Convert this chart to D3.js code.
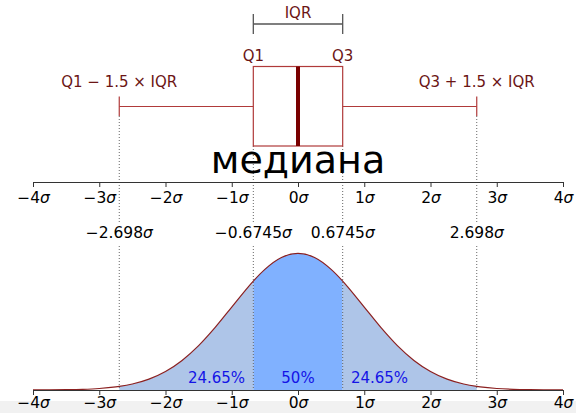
<!DOCTYPE html>
<html>
<head>
<meta charset="utf-8">
<script src="https://cdn.jsdelivr.net/npm/d3@7"></script>
<style>
  body { margin: 0; background: #fff; }
  text { font-family: "DejaVu Sans", sans-serif; }
</style>
</head>
<body>
<svg id="chart"></svg>
<script>
// axis ticks in units of sigma
const sigmaTicks = [-4, -3, -2, -1, 0, 1, 2, 3, 4];
// quartiles and whisker ends
const q1 = -0.6745, q3 = 0.6745, median = 0;
const whiskerLow = -2.698, whiskerHigh = 2.698;
const markerLabels = ["−2.698", "−0.6745", "0.6745", "2.698"];
const markerValues = [whiskerLow, q1, q3, whiskerHigh];
// share of area in each region
const regionLabels = ["24.65%", "50%", "24.65%"];
const regionCenters = [-1.23, 0, 1.23];
// density [sigma, density]
const density = [
  [-4, 0.0001], [-3.75, 0.0004], [-3.5, 0.0009], [-3.25, 0.002], [-3, 0.0044],
  [-2.75, 0.0091], [-2.698, 0.0105], [-2.5, 0.0175], [-2.25, 0.0317], [-2, 0.054],
  [-1.75, 0.0863], [-1.5, 0.1295], [-1.25, 0.1826], [-1, 0.242], [-0.75, 0.3011],
  [-0.6745, 0.3178], [-0.5, 0.3521], [-0.25, 0.3867], [0, 0.3989],
  [0.25, 0.3867], [0.5, 0.3521], [0.6745, 0.3178], [0.75, 0.3011], [1, 0.242],
  [1.25, 0.1826], [1.5, 0.1295], [1.75, 0.0863], [2, 0.054], [2.25, 0.0317],
  [2.5, 0.0175], [2.698, 0.0105], [2.75, 0.0091], [3, 0.0044], [3.25, 0.002],
  [3.5, 0.0009], [3.75, 0.0004], [4, 0.0001]
];

const width = 576, height = 413;
const svg = d3.select("#chart").attr("width", width).attr("height", height);

svg.append("rect").attr("x", 0).attr("y", 401).attr("width", width).attr("height", 12)
  .attr("fill", "#f1f1f1");

const x = d3.scaleLinear().domain([-4, 4]).range([33, 563]);
const topAxisY = 182, bottomAxisY = 390;
const y = d3.scaleLinear().domain([0, 0.3989]).range([bottomAxisY, 253.3]);

const labelColor = "#6b1515";
const boxColor = "#b03a3a";
const tickFont = 15.5;

function sigmaText(sel, prefix) {
  sel.append("tspan").text(prefix);
  sel.append("tspan").attr("font-style", "italic").text("σ");
}

function drawAxis(yPos, labelDy) {
  const g = svg.append("g")
    .attr("transform", `translate(0,${yPos})`)
    .call(d3.axisBottom(x).tickValues(sigmaTicks).tickSize(5).tickSizeOuter(0).tickFormat(""));
  g.select(".domain").attr("stroke", "#333");
  g.selectAll(".tick line").attr("stroke", "#333");
  g.selectAll(".tick").each(function(d) {
    const t = d3.select(this).append("text")
      .attr("y", labelDy)
      .attr("fill", "#000")
      .attr("font-size", tickFont)
      .attr("text-anchor", "middle");
    sigmaText(t, d < 0 ? "−" + Math.abs(d) : String(d));
  });
}

// fills under the curve
const area = d3.area().x(d => x(d[0])).y0(y(0)).y1(d => y(d[1])).curve(d3.curveMonotoneX);
const line = d3.line().x(d => x(d[0])).y(d => y(d[1])).curve(d3.curveMonotoneX);

const fills = [
  [whiskerLow, q1, "#aec5e8"],
  [q1, q3, "#80b1ff"],
  [q3, whiskerHigh, "#aec5e8"]
];
fills.forEach(([a, b, c]) => {
  svg.append("path")
    .datum(density.filter(d => d[0] >= a - 1e-9 && d[0] <= b + 1e-9))
    .attr("d", area)
    .attr("fill", c);
});

// dotted guide lines
markerValues.forEach((v, i) => {
  const start = (v === q1 || v === q3) ? 146 : 116;
  [[start, 222], [246, bottomAxisY]].forEach(([a, b]) => {
    svg.append("line")
      .attr("x1", x(v)).attr("x2", x(v))
      .attr("y1", a).attr("y2", b)
      .attr("stroke", "#666")
      .attr("stroke-width", 1)
      .attr("stroke-dasharray", "1,2");
  });
  const t = svg.append("text")
    .attr("x", x(v)).attr("y", 238)
    .attr("font-size", tickFont)
    .attr("text-anchor", "middle")
    .attr("fill", "#000");
  sigmaText(t, markerLabels[i]);
});

svg.append("path").datum(density).attr("d", line)
  .attr("fill", "none").attr("stroke", "#8b2020").attr("stroke-width", 1.2);

regionLabels.forEach((l, i) => {
  svg.append("text")
    .attr("x", x(regionCenters[i])).attr("y", 383)
    .attr("font-size", 15)
    .attr("text-anchor", "middle")
    .attr("fill", "#1414e6")
    .text(l);
});

drawAxis(topAxisY, 21);
drawAxis(bottomAxisY, 18);

// box plot
const boxTop = 66.5, boxBottom = 146, whiskerY = 106.5;
svg.append("rect")
  .attr("x", x(q1)).attr("y", boxTop)
  .attr("width", x(q3) - x(q1)).attr("height", boxBottom - boxTop)
  .attr("fill", "none").attr("stroke", boxColor).attr("stroke-width", 1.2);
svg.append("line")
  .attr("x1", x(median)).attr("x2", x(median))
  .attr("y1", boxTop).attr("y2", boxBottom)
  .attr("stroke", "#7a0000").attr("stroke-width", 4);
[[whiskerLow, q1], [q3, whiskerHigh]].forEach(([a, b]) => {
  svg.append("line")
    .attr("x1", x(a)).attr("x2", x(b)).attr("y1", whiskerY).attr("y2", whiskerY)
    .attr("stroke", boxColor).attr("stroke-width", 1.2);
});
[whiskerLow, whiskerHigh].forEach(v => {
  svg.append("line")
    .attr("x1", x(v)).attr("x2", x(v)).attr("y1", 96.5).attr("y2", 116)
    .attr("stroke", boxColor).attr("stroke-width", 1.2);
});

// IQR bracket
const bracketY = 24;
svg.append("line").attr("x1", x(q1)).attr("x2", x(q3)).attr("y1", bracketY).attr("y2", bracketY)
  .attr("stroke", "#555").attr("stroke-width", 1.3);
[q1, q3].forEach(v => {
  svg.append("line").attr("x1", x(v)).attr("x2", x(v)).attr("y1", 14).attr("y2", 34)
    .attr("stroke", "#555").attr("stroke-width", 1.3);
});

const boxLabels = [
  ["IQR", x(median), 18],
  ["Q1", x(q1), 61],
  ["Q3", x(q3), 61],
  ["Q1 − 1.5 × IQR", x(whiskerLow), 87],
  ["Q3 + 1.5 × IQR", x(whiskerHigh), 87]
];
boxLabels.forEach(([l, lx, ly]) => {
  svg.append("text")
    .attr("x", lx).attr("y", ly)
    .attr("font-size", 15)
    .attr("text-anchor", "middle")
    .attr("fill", labelColor)
    .text(l);
});

svg.append("text")
  .attr("x", x(median)).attr("y", 173)
  .attr("font-size", 38)
  .attr("text-anchor", "middle")
  .attr("fill", "#000")
  .text("медиана");
</script>
</body>
</html>
